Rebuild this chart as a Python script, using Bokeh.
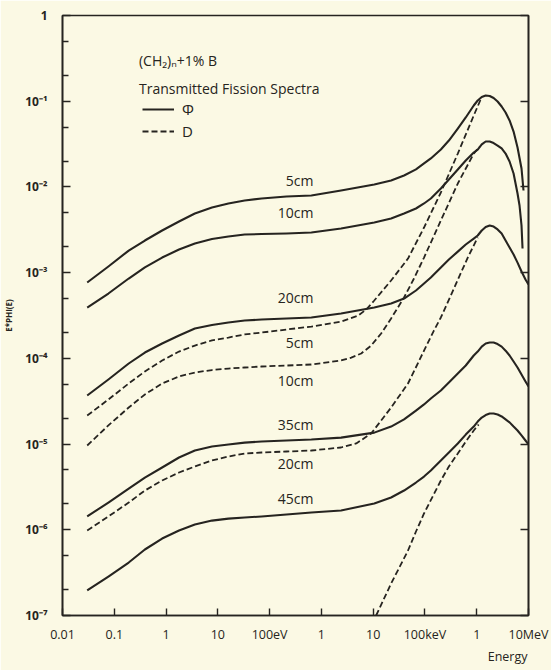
from bokeh.plotting import figure
from bokeh.models import (FixedTicker, CustomJSTickFormatter, LogAxis, Label,
                          Legend, LegendItem, Range1d, Title)
from bokeh.embed import file_html
from bokeh.resources import INLINE

# ---------------- data (energy in eV) ----------------
X_TICKS = [0.01, 0.1, 1, 10, 100, 1e3, 1e4, 1e5, 1e6, 1e7]
X_LABELS = ["0.01", "0.1", "1", "10", "100eV", "1", "10", "100keV", "1", "10MeV"]
Y_TICKS = [1e-7, 1e-6, 1e-5, 1e-4, 1e-3, 1e-2, 1e-1, 1]
Y_LABELS = ["10⁻⁷", "10⁻⁶", "10⁻⁵", "10⁻⁴", "10⁻³", "10⁻²", "10⁻¹", "1"]
Y_MINOR = [2e-7, 5e-7, 2e-6, 5e-6, 2e-5, 5e-5, 2e-4, 5e-4,
           2e-3, 5e-3, 2e-2, 5e-2, 0.2, 0.5]

# energies (eV)
E_GRID = [0.03, 0.077, 0.19, 0.39, 0.84, 1.78, 3.6, 7.7, 16, 33, 70, 212, 640,
          2400, 10500, 22200, 39500, 67100, 96000, 130000, 203000, 290000, 431000,
          614000, 876000]
E_PEAK = [1.045e6, 1.25e6, 1.49e6, 1.78e6, 2.12e6, 2.53e6, 3.03e6, 3.61e6, 4.31e6,
          5.15e6, 6.14e6, 7.33e6]

# Phi (solid)
PHI5_E = E_GRID + E_PEAK + [8.01e6]
PHI5_Y = [7.67e-4, 1.18e-3, 1.81e-3, 2.37e-3, 3.10e-3, 3.95e-3, 4.90e-3, 5.75e-3, 6.41e-3,
          6.94e-3, 7.33e-3, 7.73e-3, 7.94e-3, 9.08e-3, 1.067e-2, 1.189e-2, 1.36e-2, 1.60e-2,
          1.88e-2, 2.15e-2, 2.73e-2, 3.48e-2, 4.80e-2, 6.46e-2, 8.91e-2,
          0.1019, 0.1120, 0.1166, 0.1150, 0.1090, 0.0992, 0.0868, 0.0738, 0.0596, 0.0443,
          0.0288, 0.0164, 0.00908]

PHI10_E = E_GRID + E_PEAK[:11] + [6.71e6, 7.33e6, 7.67e6]
PHI10_Y = [3.92e-4, 5.71e-4, 8.54e-4, 1.15e-3, 1.50e-3, 1.86e-3, 2.19e-3, 2.47e-3, 2.64e-3,
           2.79e-3, 2.82e-3, 2.86e-3, 2.94e-3, 3.27e-3, 3.85e-3, 4.28e-3, 4.90e-3, 5.60e-3,
           6.41e-3, 7.33e-3, 9.59e-3, 1.221e-2, 1.60e-2, 2.03e-2, 2.52e-2,
           0.0273, 0.0313, 0.0339, 0.0339, 0.0325, 0.0304, 0.0281, 0.0245, 0.0198, 0.01434,
           0.00838, 0.00607, 0.00355, 0.00191]

PHI20_E = E_GRID + E_PEAK + [8.75e6, 1e7]
PHI20_Y = [3.69e-5, 5.67e-5, 8.71e-5, 1.17e-4, 1.49e-4, 1.85e-4, 2.23e-4, 2.45e-4, 2.62e-4,
           2.76e-4, 2.84e-4, 2.92e-4, 3.00e-4, 3.34e-4, 3.92e-4, 4.37e-4, 4.99e-4, 6.19e-4,
           7.47e-4, 8.78e-4, 1.15e-3, 1.42e-3, 1.76e-3, 2.13e-3, 2.50e-3,
           2.71e-3, 3.10e-3, 3.41e-3, 3.55e-3, 3.45e-3, 3.19e-3, 2.86e-3, 2.37e-3, 1.96e-3,
           1.63e-3, 1.31e-3, 1.03e-3, 8.32e-4, 7.27e-4]

PHI35_E = E_GRID + E_PEAK + [8.75e6, 1e7]
PHI35_Y = [1.43e-6, 2.08e-6, 3.03e-6, 4.07e-6, 5.33e-6, 6.97e-6, 8.41e-6, 9.37e-6, 9.89e-6,
           1.04e-5, 1.07e-5, 1.10e-5, 1.13e-5, 1.19e-5, 1.36e-5, 1.60e-5, 1.94e-5, 2.46e-5,
           2.90e-5, 3.40e-5, 4.22e-5, 5.23e-5, 6.66e-5, 8.25e-5, 1.08e-4,
           1.20e-4, 1.37e-4, 1.49e-4, 1.53e-4, 1.53e-4, 1.47e-4, 1.37e-4, 1.23e-4, 1.08e-4,
           9.19e-5, 7.82e-5, 6.48e-5, 5.37e-5, 4.69e-5]

PHI45_E = E_GRID + E_PEAK + [8.75e6, 1e7]
PHI45_Y = [1.96e-7, 2.85e-7, 4.15e-7, 5.89e-7, 7.91e-7, 9.81e-7, 1.15e-6, 1.28e-6, 1.35e-6,
           1.39e-6, 1.43e-6, 1.51e-6, 1.59e-6, 1.68e-6, 2.03e-6, 2.38e-6, 2.87e-6, 3.56e-6,
           4.18e-6, 4.92e-6, 6.43e-6, 7.97e-6, 1.016e-5, 1.29e-5, 1.60e-5,
           1.83e-5, 2.04e-5, 2.18e-5, 2.27e-5, 2.27e-5, 2.21e-5, 2.10e-5, 1.94e-5, 1.79e-5,
           1.60e-5, 1.44e-5, 1.26e-5, 1.10e-5, 9.89e-6]

# D (dashed)
D5_E = E_GRID[:13] + [2400, 5150, 7340, 10500, 22200, 47100, 96000, 203000, 431000,
                      876000, 1.19e6]
D5_Y = [2.15e-5, 3.31e-5, 5.09e-5, 7.03e-5, 9.44e-5, 1.20e-4, 1.41e-4, 1.62e-4, 1.75e-4,
        1.90e-4, 2.00e-4, 2.17e-4, 2.35e-4,
        2.69e-4, 3.16e-4, 3.72e-4, 4.73e-4, 8.10e-4, 1.46e-3, 3.36e-3, 8.61e-3, 2.45e-2,
        6.81e-2, 0.1047]

D10_E = E_GRID[:13] + [2400, 3780, 5880, 9150, 14250, 22200, 39500, 61400, 96000, 203000,
                       431000, 876000, 1.14e6]
D10_Y = [9.62e-6, 1.65e-5, 2.67e-5, 3.79e-5, 5.09e-5, 6.14e-5, 6.84e-5, 7.31e-5, 7.61e-5,
         7.82e-5, 8.04e-5, 8.25e-5, 8.48e-5,
         9.44e-5, 1.02e-4, 1.14e-4, 1.41e-4, 1.95e-4, 2.92e-4, 5.13e-4, 8.54e-4, 1.50e-3,
         4.06e-3, 1.096e-2, 2.45e-2, 2.96e-2]

D20_E = E_GRID[:13] + [2400, 4710, 9150, 14250, 22200, 47100, 96000, 149000, 203000,
                       316000, 671000, 1.045e6]
D20_Y = [9.81e-7, 1.43e-6, 2.08e-6, 2.87e-6, 3.76e-6, 4.66e-6, 5.47e-6, 6.43e-6, 7.16e-6,
         7.76e-6, 7.97e-6, 8.19e-6, 8.41e-6,
         9.12e-6, 1.016e-5, 1.33e-5, 1.88e-5, 2.67e-5, 5.09e-5, 1.23e-4, 2.11e-4, 3.00e-4,
         5.41e-4, 1.50e-3, 2.57e-3]

D45_E = [11400, 22200, 47100, 67100, 96000, 203000, 290000, 431000, 614000, 876000, 1.09e6]
D45_Y = [1.0e-7, 2.36e-7, 5.73e-7, 9.55e-7, 1.55e-6, 3.76e-6, 5.47e-6, 7.76e-6, 1.07e-5,
         1.44e-5, 1.69e-5]

CURVE_LABELS = ["5cm", "10cm", "20cm", "5cm", "10cm", "35cm", "20cm", "45cm"]
CURVE_LABEL_Y = [1.19e-2, 5.03e-3, 5.13e-4, 1.53e-4, 5.52e-5, 1.69e-5, 5.93e-6, 2.32e-6]
CURVE_LABEL_X = 700

# ---------------- styling ----------------
INK = "#262420"
BG = "#fbf9e4"
FONT = "Open Sans"

p = figure(width=551, height=670, x_axis_type="log", y_axis_type="log",
           x_range=Range1d(0.01, 1e7), y_range=Range1d(1e-7, 1),
           output_backend="svg", toolbar_location=None,
           min_border_left=60, min_border_right=23, min_border_top=15, min_border_bottom=55)
p.background_fill_color = BG
p.border_fill_color = BG
p.grid.visible = False
p.outline_line_color = INK
p.outline_line_width = 1.6

fmt_code = """
for (let i = 0; i < tv.length; i++) {
  if (Math.abs(Math.log10(tv[i]) - Math.log10(tick)) < 1e-6) return tl[i];
}
return "";
"""

xa = p.xaxis[0]
xa.ticker = FixedTicker(ticks=X_TICKS)
xa.formatter = CustomJSTickFormatter(args=dict(tv=X_TICKS, tl=X_LABELS), code=fmt_code)
xa.major_tick_in = 7
xa.major_tick_out = 0
xa.minor_tick_in = 0
xa.minor_tick_out = 0
xa.major_label_standoff = 10
xa.major_label_text_font = FONT
xa.major_label_text_font_size = "12.5px"
xa.major_label_text_color = INK
xa.axis_line_color = INK
xa.axis_line_width = 1.6
xa.major_tick_line_color = INK
xa.major_tick_line_width = 1.4

p.add_layout(Title(text="Energy", align="right", offset=1, standoff=0,
                   text_font=FONT, text_font_size="12.5px", text_font_style="normal",
                   text_color=INK), "below")

ya = p.yaxis[0]
ya.ticker = FixedTicker(ticks=Y_TICKS, minor_ticks=Y_MINOR)
ya.formatter = CustomJSTickFormatter(args=dict(tv=Y_TICKS, tl=Y_LABELS), code=fmt_code)
ya.major_tick_in = 8
ya.major_tick_out = 0
ya.minor_tick_in = 6
ya.minor_tick_out = 0
ya.major_label_standoff = 15
ya.major_label_text_font = FONT
ya.major_label_text_font_style = "bold"
ya.major_label_text_font_size = "12px"
ya.major_label_text_color = INK
ya.axis_line_color = INK
ya.axis_line_width = 1.6
ya.major_tick_line_color = INK
ya.major_tick_line_width = 1.4
ya.minor_tick_line_color = INK
ya.minor_tick_line_width = 1.4
ya.axis_label = "E*PHI(E)"
ya.axis_label_text_font = FONT
ya.axis_label_text_font_size = "8px"
ya.axis_label_text_font_style = "bold"
ya.axis_label_text_color = INK
ya.axis_label_standoff = 8

ra = LogAxis(ticker=FixedTicker(ticks=Y_TICKS),
             formatter=CustomJSTickFormatter(code="return '';"),
             major_tick_in=8, major_tick_out=0, minor_tick_in=0, minor_tick_out=0,
             major_label_text_font_size="0px", major_label_standoff=0,
             axis_line_color=INK, axis_line_width=1.6,
             major_tick_line_color=INK, major_tick_line_width=1.4)
p.add_layout(ra, "right")

solid = dict(line_color=INK, line_width=2.1, line_join="round")
dashed = dict(line_color=INK, line_width=1.8, line_dash="6 3")

r_phi5 = p.line(PHI5_E, PHI5_Y, **solid)
p.line(PHI10_E, PHI10_Y, **solid)
p.line(PHI20_E, PHI20_Y, **solid)
p.line(PHI35_E, PHI35_Y, **solid)
p.line(PHI45_E, PHI45_Y, **solid)
r_d5 = p.line(D5_E, D5_Y, **dashed)
p.line(D10_E, D10_Y, **dashed)
p.line(D20_E, D20_Y, **dashed)
p.line(D45_E, D45_Y, **dashed)

for txt, yv in zip(CURVE_LABELS, CURVE_LABEL_Y):
    p.add_layout(Label(x=CURVE_LABEL_X, y=yv, text=txt, text_align="right",
                       text_baseline="middle", text_font=FONT, text_font_size="14px",
                       text_color=INK))

p.add_layout(Label(x=0.30, y=0.30, text="(CH₂)ₙ+1% B", text_align="left",
                   text_baseline="middle", text_font=FONT, text_font_size="14px",
                   text_color=INK))
p.add_layout(Label(x=0.30, y=0.141, text="Transmitted Fission Spectra", text_align="left",
                   text_baseline="middle", text_font=FONT, text_font_size="14px",
                   text_color=INK))

legend = Legend(items=[LegendItem(label="Φ", renderers=[r_phi5]),
                       LegendItem(label="D", renderers=[r_d5])],
                location=(80, 474), background_fill_alpha=0, border_line_alpha=0,
                padding=0, margin=0, spacing=2, glyph_width=32, glyph_height=18,
                label_height=18, label_standoff=8, label_text_font=FONT,
                label_text_font_size="15px", label_text_color=INK)
p.add_layout(legend)

open("out.html", "w").write(file_html(p, INLINE))
